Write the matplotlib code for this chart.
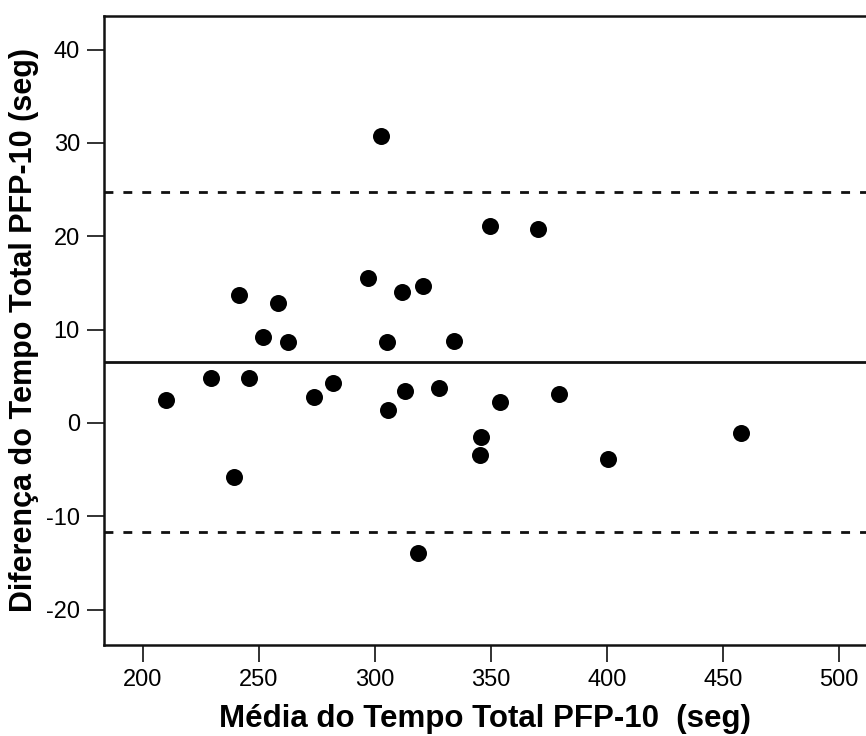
import matplotlib
matplotlib.use("Agg")
import matplotlib.pyplot as plt

media = [210.0, 229.3, 245.5, 241.5, 258.4, 251.9, 262.6, 239.1, 273.7, 281.9,
         302.7, 349.6, 370.4, 296.8, 311.8, 320.5, 305.0, 334.2, 312.8, 305.7,
         327.7, 353.9, 379.1, 345.5, 345.1, 318.4, 457.9, 400.6]
diferenca = [2.5, 4.85, 4.78, 13.67, 12.8, 9.22, 8.62, -5.83, 2.75, 4.25,
             30.78, 21.07, 20.82, 15.49, 13.99, 14.66, 8.62, 8.76, 3.46, 1.40,
             3.71, 2.22, 3.07, -1.56, -3.40, -13.94, -1.06, -3.9]
media_dif = 6.54
lim_sup = 24.77
lim_inf = -11.70
xticks = [200, 250, 300, 350, 400, 450, 500]
yticks = [-20, -10, 0, 10, 20, 30, 40]

plt.rcParams['font.family'] = ['Liberation Sans', 'DejaVu Sans']
plt.rcParams['axes.unicode_minus'] = False

fig = plt.figure(figsize=(8.66, 7.36), dpi=100)
ax = fig.add_axes([103.5/866, 1-645/736, 1 - 103.5/866, (645-16)/736])

ax.scatter(media, diferenca, s=150, color='black', zorder=3, linewidths=0)
ax.axhline(media_dif, color='#111111', lw=2.0)
ax.axhline(lim_sup, color='#111111', lw=2.0, ls=(0, (3.2, 3.6)))
ax.axhline(lim_inf, color='#111111', lw=2.0, ls=(0, (3.2, 3.6)))

ax.set_xlim(183.0, 511.6)
ax.set_ylim(-23.8, 43.6)
ax.set_xticks(xticks)
ax.set_yticks(yticks)
ax.tick_params(axis='both', length=12, width=1.3, labelsize=17, color='#222222', pad=5)

for s in ['left', 'top', 'bottom']:
    ax.spines[s].set_linewidth(1.8)
    ax.spines[s].set_color('#111111')
ax.spines['right'].set_visible(False)

ax.set_xlabel('Média do Tempo Total PFP-10  (seg)', fontsize=22.5, fontweight='bold', labelpad=10)
ax.set_ylabel('Diferença do Tempo Total PFP-10 (seg)', fontsize=22, fontweight='bold', labelpad=5)

fig.savefig('out.png', dpi=100)
